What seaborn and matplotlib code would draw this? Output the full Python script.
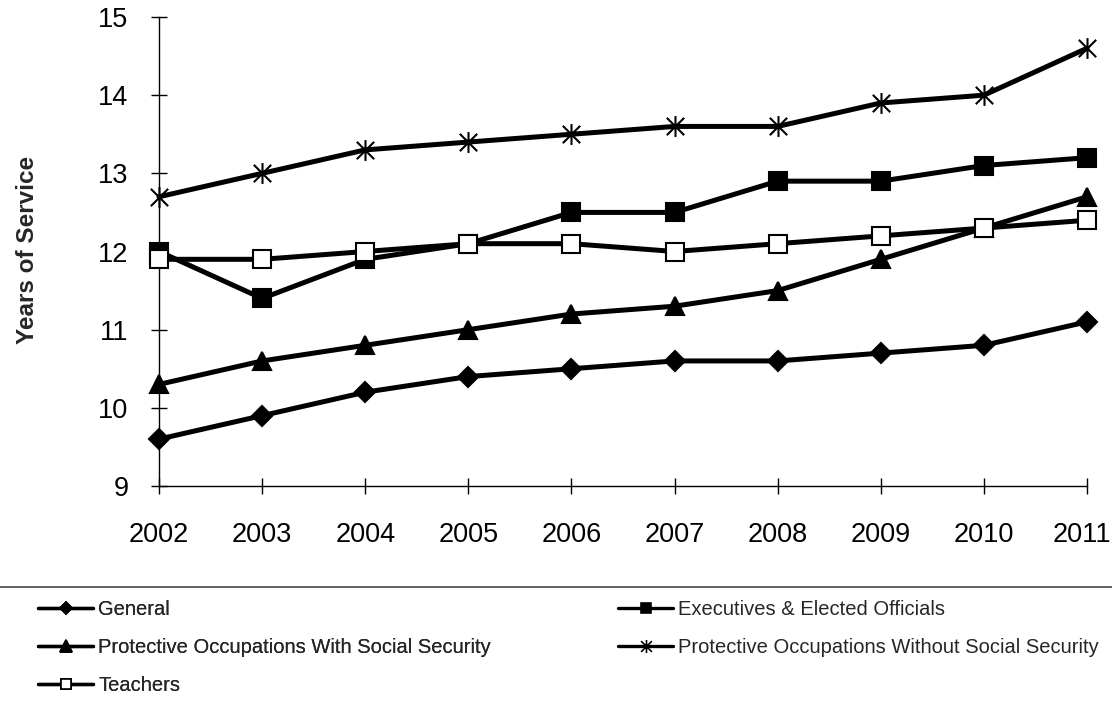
import matplotlib
matplotlib.use("Agg")
import matplotlib.pyplot as plt
import matplotlib.transforms as mtransforms
import seaborn as sns
import pandas as pd
from matplotlib.lines import Line2D
from matplotlib.path import Path

years = [2002, 2003, 2004, 2005, 2006, 2007, 2008, 2009, 2010, 2011]
general = [9.6, 9.9, 10.2, 10.4, 10.5, 10.6, 10.6, 10.7, 10.8, 11.1]
executives = [12.0, 11.4, 11.9, 12.1, 12.5, 12.5, 12.9, 12.9, 13.1, 13.2]
protective_with_ss = [10.3, 10.6, 10.8, 11.0, 11.2, 11.3, 11.5, 11.9, 12.3, 12.7]
protective_without_ss = [12.7, 13.0, 13.3, 13.4, 13.5, 13.6, 13.6, 13.9, 14.0, 14.6]
teachers = [11.9, 11.9, 12.0, 12.1, 12.1, 12.0, 12.1, 12.2, 12.3, 12.4]

series = {
    "General": general,
    "Executives & Elected Officials": executives,
    "Protective Occupations With Social Security": protective_with_ss,
    "Protective Occupations Without Social Security": protective_without_ss,
    "Teachers": teachers,
}

# asterisk marker: an X crossed by a vertical stroke
star = Path(
    [(-1, -1), (1, 1), (-1, 1), (1, -1), (0, -1.2), (0, 1.2)],
    [Path.MOVETO, Path.LINETO, Path.MOVETO, Path.LINETO, Path.MOVETO, Path.LINETO],
)

# marker style per series: (marker, size, face colour)
styles = {
    "General": ("D", 10.5, "black"),
    "Executives & Elected Officials": ("s", 12.5, "black"),
    "Protective Occupations With Social Security": ("^", 13, "black"),
    "Protective Occupations Without Social Security": (star, 15, "black"),
    "Teachers": ("s", 12.5, "white"),
}

sns.set_style("white")
plt.rcParams["font.family"] = ["Liberation Sans", "DejaVu Sans"]

df = pd.DataFrame(
    [(name, y, v) for name, vals in series.items() for y, v in zip(years, vals)],
    columns=["series", "year", "value"],
)

fig = plt.figure(figsize=(11.12, 7.02), dpi=100)
ax = fig.add_axes([159 / 1112, 1 - 486 / 702, (1087 - 159) / 1112, (486 - 17) / 702])

for name in series:
    m, ms, fc = styles[name]
    sub = df[df["series"] == name]
    sns.lineplot(
        data=sub, x="year", y="value", ax=ax, color="black", linewidth=3.6,
        marker=m, markersize=ms, markerfacecolor=fc, markeredgecolor="black",
        markeredgewidth=1.5, legend=False, clip_on=False, zorder=3,
    )

ax.set_xlim(2002, 2011)
ax.set_ylim(9, 15)
ax.set_xticks(years)
ax.set_xticklabels([str(y) for y in years])
ax.set_yticks(range(9, 16))
ax.set_xlabel("")
ax.set_ylabel("")

for side in ["top", "right"]:
    ax.spines[side].set_visible(False)
for side in ["left", "bottom"]:
    ax.spines[side].set_color("black")
    ax.spines[side].set_linewidth(1.0)

ax.tick_params(axis="both", direction="inout", length=12, width=1.0,
               color="black", labelsize=19.5, labelcolor="black",
               left=True, bottom=True)
ax.tick_params(axis="y", pad=16)
ax.tick_params(axis="x", pad=20)

# pull the last year label in so it stays inside the figure
last = ax.get_xticklabels()[-1]
last.set_transform(last.get_transform() +
                   mtransforms.ScaledTranslation(-0.05, 0, fig.dpi_scale_trans))

fig.text(28 / 1112, 1 - 250 / 702, "Years of Service", rotation=90,
         ha="center", va="center", fontsize=17.5, fontweight="bold")

# separator line above the legend
fig.add_artist(Line2D([0, 1], [1 - 587 / 702, 1 - 587 / 702],
                      transform=fig.transFigure, color="#555555", linewidth=1.3))

def handle(name):
    m, ms, fc = styles[name]
    return Line2D([], [], color="black", linewidth=2.4, marker=m,
                  markersize=ms * 0.62, markerfacecolor=fc,
                  markeredgecolor="black", markeredgewidth=1.2)

legend_kw = dict(frameon=False, fontsize=14.5, handlelength=2.75,
                 handletextpad=0.25, labelspacing=0.95, borderaxespad=0,
                 borderpad=0, loc="upper left")

left_names = ["General", "Protective Occupations With Social Security", "Teachers"]
right_names = ["Executives & Elected Officials", "Protective Occupations Without Social Security"]

leg1 = fig.legend([handle(n) for n in left_names], left_names,
                  bbox_to_anchor=(38 / 1112, 1 - 600 / 702), **legend_kw)
fig.add_artist(leg1)
fig.legend([handle(n) for n in right_names], right_names,
           bbox_to_anchor=(618 / 1112, 1 - 600 / 702), **legend_kw)

fig.savefig("out.png", dpi=100)
